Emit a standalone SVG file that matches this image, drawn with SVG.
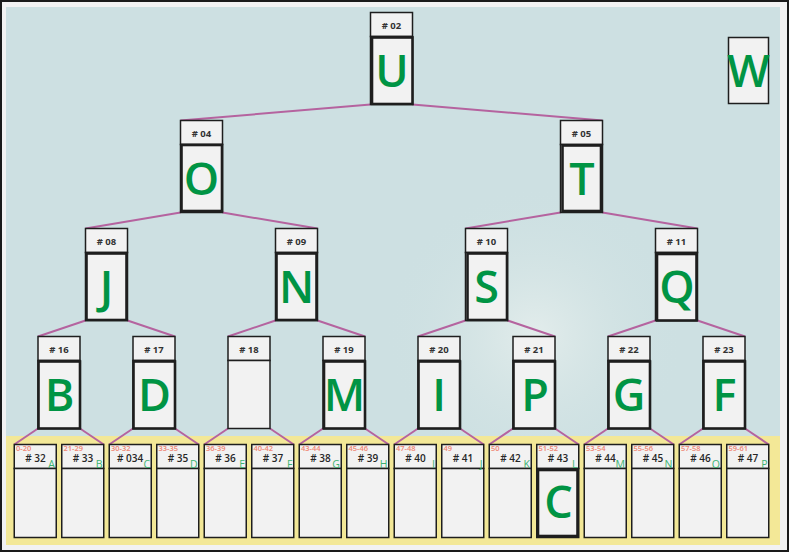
<svg xmlns="http://www.w3.org/2000/svg" width="789" height="552" viewBox="0 0 789 552">
<defs>
<radialGradient id="glow" cx="535" cy="335" r="150" gradientUnits="userSpaceOnUse">
<stop offset="0" stop-color="#eaf1ef" stop-opacity="0.75"/>
<stop offset="0.5" stop-color="#dde9e8" stop-opacity="0.35"/>
<stop offset="1" stop-color="#cde0e2" stop-opacity="0"/>
</radialGradient>
<style>
.frame{fill:#f2f2f2;stroke:#1a1a1a;stroke-width:2}
.box{fill:#f2f2f2;stroke:#1e1e1e;stroke-width:1.5}
.card{fill:#f2f2f2;stroke:#1e1e1e;stroke-width:2.6}
.hdr{font-family:"Open Sans","Noto Sans","DejaVu Sans",sans-serif;font-size:9.5px;font-weight:700;fill:#333;text-anchor:middle}
.big{font-family:"Open Sans","Noto Sans","DejaVu Sans",sans-serif;font-size:45px;font-weight:600;fill:#009444;text-anchor:middle}
.num{font-family:"Open Sans","Noto Sans","DejaVu Sans",sans-serif;font-size:10px;font-weight:600;fill:#262626;text-anchor:middle}
.rng{font-family:"Open Sans","Noto Sans","DejaVu Sans",sans-serif;font-size:7.5px;font-weight:600;fill:#f08573}
.ltr{font-family:"Open Sans","Noto Sans","DejaVu Sans",sans-serif;font-size:10.5px;font-weight:400;fill:#3cb371;text-anchor:end}
.edge{stroke:#b5639f;stroke-width:2;fill:none}
</style>
</defs>
<rect class="frame" x="1" y="1" width="787" height="550"/>
<rect x="6" y="7" width="774" height="429" fill="#cde0e2"/>
<rect x="6" y="7" width="774" height="429" fill="url(#glow)"/>
<rect x="6" y="436" width="774" height="109" fill="#f3e897"/>

<g id="connectors">
<line class="edge" x1="370.5" y1="104.5" x2="180.5" y2="120.5"/>
<line class="edge" x1="412.5" y1="104.5" x2="602.5" y2="120.5"/>
<line class="edge" x1="180.5" y1="212.5" x2="85.5" y2="228.5"/>
<line class="edge" x1="222.5" y1="212.5" x2="317.5" y2="228.5"/>
<line class="edge" x1="560.5" y1="212.5" x2="465.5" y2="228.5"/>
<line class="edge" x1="602.5" y1="212.5" x2="697.5" y2="228.5"/>
<line class="edge" x1="85.5" y1="320.5" x2="38" y2="336.5"/>
<line class="edge" x1="127.5" y1="320.5" x2="175" y2="336.5"/>
<line class="edge" x1="275.5" y1="320.5" x2="228" y2="336.5"/>
<line class="edge" x1="317.5" y1="320.5" x2="365" y2="336.5"/>
<line class="edge" x1="465.5" y1="320.5" x2="418" y2="336.5"/>
<line class="edge" x1="507.5" y1="320.5" x2="555" y2="336.5"/>
<line class="edge" x1="655.5" y1="320.5" x2="608" y2="336.5"/>
<line class="edge" x1="697.5" y1="320.5" x2="745" y2="336.5"/>
<line class="edge" x1="38" y1="428.5" x2="14.25" y2="444.5"/>
<line class="edge" x1="80" y1="428.5" x2="103.75" y2="444.5"/>
<line class="edge" x1="133" y1="428.5" x2="109.25" y2="444.5"/>
<line class="edge" x1="175" y1="428.5" x2="198.75" y2="444.5"/>
<line class="edge" x1="228" y1="428.5" x2="204.25" y2="444.5"/>
<line class="edge" x1="270" y1="428.5" x2="293.75" y2="444.5"/>
<line class="edge" x1="323" y1="428.5" x2="299.25" y2="444.5"/>
<line class="edge" x1="365" y1="428.5" x2="388.75" y2="444.5"/>
<line class="edge" x1="418" y1="428.5" x2="394.25" y2="444.5"/>
<line class="edge" x1="460" y1="428.5" x2="483.75" y2="444.5"/>
<line class="edge" x1="513" y1="428.5" x2="489.25" y2="444.5"/>
<line class="edge" x1="555" y1="428.5" x2="578.75" y2="444.5"/>
<line class="edge" x1="608" y1="428.5" x2="584.25" y2="444.5"/>
<line class="edge" x1="650" y1="428.5" x2="673.75" y2="444.5"/>
<line class="edge" x1="703" y1="428.5" x2="679.25" y2="444.5"/>
<line class="edge" x1="745" y1="428.5" x2="768.75" y2="444.5"/>
</g>

<g id="n02">
<rect class="box" x="370.5" y="12.5" width="42" height="24"/>
<rect class="box" x="370.5" y="36.5" width="42" height="68"/>
<rect class="card" x="372" y="37.5" width="40.5" height="66.5"/>
<text class="hdr" x="391.5" y="29">#&#160;02</text>
<text class="big" x="392" y="87">U</text>
</g>
<g id="n04">
<rect class="box" x="180.5" y="120.5" width="42" height="24"/>
<rect class="box" x="180.5" y="144.5" width="42" height="68"/>
<rect class="card" x="181.5" y="145" width="40.5" height="66"/>
<text class="hdr" x="201.5" y="137">#&#160;04</text>
<text class="big" x="201.5" y="195">O</text>
</g>
<g id="n05">
<rect class="box" x="560.5" y="120.5" width="42" height="24"/>
<rect class="box" x="560.5" y="144.5" width="42" height="68"/>
<rect class="card" x="562.5" y="145.5" width="38.5" height="65.5"/>
<text class="hdr" x="581.5" y="137">#&#160;05</text>
<text class="big" x="582" y="195">T</text>
</g>
<g id="n08">
<rect class="box" x="85.5" y="228.5" width="42" height="24"/>
<rect class="box" x="85.5" y="252.5" width="42" height="68"/>
<rect class="card" x="86.5" y="253.5" width="40" height="66.5"/>
<text class="hdr" x="106.5" y="245">#&#160;08</text>
<text class="big" x="106.5" y="303">J</text>
</g>
<g id="n09">
<rect class="box" x="275.5" y="228.5" width="42" height="24"/>
<rect class="box" x="275.5" y="252.5" width="42" height="68"/>
<rect class="card" x="276.5" y="253.5" width="40" height="66.5"/>
<text class="hdr" x="296.5" y="245">#&#160;09</text>
<text class="big" x="296.5" y="303">N</text>
</g>
<g id="n10">
<rect class="box" x="465.5" y="228.5" width="42" height="24"/>
<rect class="box" x="465.5" y="252.5" width="42" height="68"/>
<rect class="card" x="467.5" y="253.5" width="39.5" height="66.5"/>
<text class="hdr" x="486.5" y="245">#&#160;10</text>
<text class="big" x="486.5" y="303">S</text>
</g>
<g id="n11">
<rect class="box" x="655.5" y="228.5" width="42" height="24"/>
<rect class="box" x="655.5" y="252.5" width="42" height="68"/>
<rect class="card" x="657" y="254" width="39.5" height="66.5"/>
<text class="hdr" x="676.5" y="245">#&#160;11</text>
<text class="big" x="677" y="303">Q</text>
</g>
<g id="n16">
<rect class="box" x="38" y="336.5" width="42" height="24"/>
<rect class="box" x="38" y="360.5" width="42" height="68"/>
<rect class="card" x="38.5" y="361.5" width="41.5" height="67"/>
<text class="hdr" x="59" y="353">#&#160;16</text>
<text class="big" x="59.5" y="411">B</text>
</g>
<g id="n17">
<rect class="box" x="133" y="336.5" width="42" height="24"/>
<rect class="box" x="133" y="360.5" width="42" height="68"/>
<rect class="card" x="133.5" y="361.5" width="41.5" height="67"/>
<text class="hdr" x="154" y="353">#&#160;17</text>
<text class="big" x="154.5" y="411">D</text>
</g>
<g id="n18">
<rect class="box" x="228" y="336.5" width="42" height="24"/>
<rect class="box" x="228" y="360.5" width="42" height="68"/>
<text class="hdr" x="249" y="353">#&#160;18</text>
</g>
<g id="n19">
<rect class="box" x="323" y="336.5" width="42" height="24"/>
<rect class="box" x="323" y="360.5" width="42" height="68"/>
<rect class="card" x="324" y="361.5" width="41" height="67"/>
<text class="hdr" x="344" y="353">#&#160;19</text>
<text class="big" x="344.5" y="411">M</text>
</g>
<g id="n20">
<rect class="box" x="418" y="336.5" width="42" height="24"/>
<rect class="box" x="418" y="360.5" width="42" height="68"/>
<rect class="card" x="418.5" y="361.5" width="41.5" height="67"/>
<text class="hdr" x="439" y="353">#&#160;20</text>
<text class="big" x="439" y="411">I</text>
</g>
<g id="n21">
<rect class="box" x="513" y="336.5" width="42" height="24"/>
<rect class="box" x="513" y="360.5" width="42" height="68"/>
<rect class="card" x="513.5" y="361.5" width="41.5" height="67"/>
<text class="hdr" x="534" y="353">#&#160;21</text>
<text class="big" x="535" y="411">P</text>
</g>
<g id="n22">
<rect class="box" x="608" y="336.5" width="42" height="24"/>
<rect class="box" x="608" y="360.5" width="42" height="68"/>
<rect class="card" x="608.5" y="361.5" width="41.5" height="67"/>
<text class="hdr" x="629" y="353">#&#160;22</text>
<text class="big" x="629" y="411">G</text>
</g>
<g id="n23">
<rect class="box" x="703" y="336.5" width="42" height="24"/>
<rect class="box" x="703" y="360.5" width="42" height="68"/>
<rect class="card" x="703.5" y="361.5" width="41.5" height="67"/>
<text class="hdr" x="724" y="353">#&#160;23</text>
<text class="big" x="724.5" y="411">F</text>
</g>

<g id="n32"><rect class="box" x="14.25" y="444.5" width="42" height="24"/><rect class="box" x="14.25" y="468.5" width="42" height="69"/><text class="rng" x="16" y="451">0-20</text><text class="num" x="35.5" y="462">#&#160;32</text><text class="ltr" x="55" y="467.5">A</text></g>
<g id="n33"><rect class="box" x="61.75" y="444.5" width="42" height="24"/><rect class="box" x="61.75" y="468.5" width="42" height="69"/><text class="rng" x="63.5" y="451">21-29</text><text class="num" x="83" y="462">#&#160;33</text><text class="ltr" x="102.5" y="467.5">B</text></g>
<g id="n34"><rect class="box" x="109.25" y="444.5" width="42" height="24"/><rect class="box" x="109.25" y="468.5" width="42" height="69"/><text class="rng" x="111" y="451">30-32</text><text class="num" x="130" y="462">#&#160;034</text><text class="ltr" x="150" y="467.5">C</text></g>
<g id="n35"><rect class="box" x="156.75" y="444.5" width="42" height="24"/><rect class="box" x="156.75" y="468.5" width="42" height="69"/><text class="rng" x="158.5" y="451">33-35</text><text class="num" x="178" y="462">#&#160;35</text><text class="ltr" x="197.5" y="467.5">D</text></g>
<g id="n36"><rect class="box" x="204.25" y="444.5" width="42" height="24"/><rect class="box" x="204.25" y="468.5" width="42" height="69"/><text class="rng" x="206" y="451">36-39</text><text class="num" x="225.5" y="462">#&#160;36</text><text class="ltr" x="245" y="467.5">E</text></g>
<g id="n37"><rect class="box" x="251.75" y="444.5" width="42" height="24"/><rect class="box" x="251.75" y="468.5" width="42" height="69"/><text class="rng" x="253.5" y="451">40-42</text><text class="num" x="273" y="462">#&#160;37</text><text class="ltr" x="292.5" y="467.5">F</text></g>
<g id="n38"><rect class="box" x="299.25" y="444.5" width="42" height="24"/><rect class="box" x="299.25" y="468.5" width="42" height="69"/><text class="rng" x="301" y="451">43-44</text><text class="num" x="320.5" y="462">#&#160;38</text><text class="ltr" x="340" y="467.5">G</text></g>
<g id="n39"><rect class="box" x="346.75" y="444.5" width="42" height="24"/><rect class="box" x="346.75" y="468.5" width="42" height="69"/><text class="rng" x="348.5" y="451">45-46</text><text class="num" x="368" y="462">#&#160;39</text><text class="ltr" x="387.5" y="467.5">H</text></g>
<g id="n40"><rect class="box" x="394.25" y="444.5" width="42" height="24"/><rect class="box" x="394.25" y="468.5" width="42" height="69"/><text class="rng" x="396" y="451">47-48</text><text class="num" x="415.5" y="462">#&#160;40</text><text class="ltr" x="435" y="467.5">I</text></g>
<g id="n41"><rect class="box" x="441.75" y="444.5" width="42" height="24"/><rect class="box" x="441.75" y="468.5" width="42" height="69"/><text class="rng" x="443.5" y="451">49</text><text class="num" x="463" y="462">#&#160;41</text><text class="ltr" x="482.5" y="467.5">J</text></g>
<g id="n42"><rect class="box" x="489.25" y="444.5" width="42" height="24"/><rect class="box" x="489.25" y="468.5" width="42" height="69"/><text class="rng" x="491" y="451">50</text><text class="num" x="510.5" y="462">#&#160;42</text><text class="ltr" x="530" y="467.5">K</text></g>
<g id="n43"><rect class="box" x="536.75" y="444.5" width="42" height="24"/><rect class="box" x="536.75" y="468.5" width="42" height="69"/><rect class="card" x="538" y="470" width="39.5" height="66"/><text class="rng" x="538.5" y="451">51-52</text><text class="num" x="558" y="462">#&#160;43</text><text class="ltr" x="577.5" y="467.5">L</text><text class="big" x="558.5" y="518">C</text></g>
<g id="n44"><rect class="box" x="584.25" y="444.5" width="42" height="24"/><rect class="box" x="584.25" y="468.5" width="42" height="69"/><text class="rng" x="586" y="451">53-54</text><text class="num" x="605.5" y="462">#&#160;44</text><text class="ltr" x="625" y="467.5">M</text></g>
<g id="n45"><rect class="box" x="631.75" y="444.5" width="42" height="24"/><rect class="box" x="631.75" y="468.5" width="42" height="69"/><text class="rng" x="633.5" y="451">55-56</text><text class="num" x="653" y="462">#&#160;45</text><text class="ltr" x="672.5" y="467.5">N</text></g>
<g id="n46"><rect class="box" x="679.25" y="444.5" width="42" height="24"/><rect class="box" x="679.25" y="468.5" width="42" height="69"/><text class="rng" x="681" y="451">57-58</text><text class="num" x="700.5" y="462">#&#160;46</text><text class="ltr" x="720" y="467.5">O</text></g>
<g id="n47"><rect class="box" x="726.75" y="444.5" width="42" height="24"/><rect class="box" x="726.75" y="468.5" width="42" height="69"/><text class="rng" x="728.5" y="451">59-61</text><text class="num" x="748" y="462">#&#160;47</text><text class="ltr" x="767.5" y="467.5">P</text></g>

<g id="nW">
<rect class="box" x="728.5" y="37.5" width="40" height="66"/>
<text class="big" x="748.5" y="87">W</text>
</g>
</svg>
